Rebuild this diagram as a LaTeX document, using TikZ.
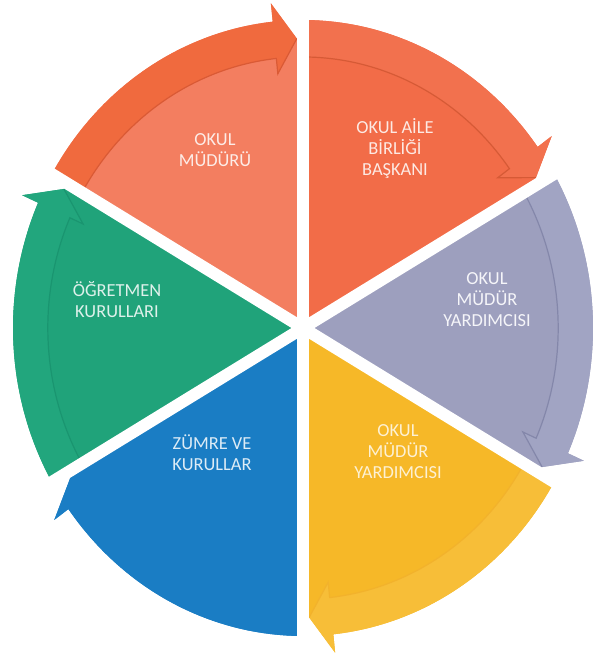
\documentclass[tikz,border=0pt]{standalone}
\usepackage{fontspec}
\setmainfont{Carlito}
\definecolor{oLbody}{HTML}{F37E60}
\definecolor{oLband}{HTML}{F06A3E}
\definecolor{oLline}{HTML}{DA5A35}
\definecolor{oRbody}{HTML}{F26C48}
\definecolor{oRband}{HTML}{F2714E}
\definecolor{oRline}{HTML}{D65A36}
\definecolor{gyBody}{HTML}{9D9FBE}
\definecolor{gyBand}{HTML}{A1A4C3}
\definecolor{gyLine}{HTML}{8487AA}
\definecolor{ylBody}{HTML}{F6B828}
\definecolor{ylBand}{HTML}{F7BE38}
\definecolor{ylLine}{HTML}{F2B22C}
\definecolor{blBody}{HTML}{1A7DC4}
\definecolor{blBand}{HTML}{1A7DC4}
\definecolor{blLine}{HTML}{1A7DC4}
\definecolor{grBody}{HTML}{20A37A}
\definecolor{grBand}{HTML}{22A67D}
\definecolor{grLine}{HTML}{1A9570}
\newcommand\MySlice[5]{%
  \pgfmathsetmacro\SlB{#2+6}%
  \pgfmathsetmacro\SlT{#2+1.3}%
  \fill[#3] (303,328) -- plot[domain=#1:\SlB,samples=50] ({303+290*cos(\x)},{328-308*sin(\x)})
     -- ({303+290*1.06*cos(\SlB)},{328-308*1.06*sin(\SlB)})
     -- ({303+290*0.94*cos(\SlT)},{328-308*0.94*sin(\SlT)})
     -- ({303+290*0.94*cos(#2)},{328-308*0.94*sin(#2)}) -- cycle;
  \fill[#4] plot[domain=#1:\SlB,samples=50] ({303+290*cos(\x)},{328-308*sin(\x)})
     -- ({303+290*1.06*cos(\SlB)},{328-308*1.06*sin(\SlB)})
     -- ({303+290*0.94*cos(\SlT)},{328-308*0.94*sin(\SlT)})
     -- ({303+290*0.83*cos(\SlB)},{328-308*0.83*sin(\SlB)})
     -- plot[domain=\SlB:#1,samples=50] ({303+290*0.88*cos(\x)},{328-308*0.88*sin(\x)}) -- cycle;
  \draw[#5, line width=0.6pt] plot[domain=#1:\SlB,samples=50] ({303+290*0.88*cos(\x)},{328-308*0.88*sin(\x)})
     -- ({303+290*0.83*cos(\SlB)},{328-308*0.83*sin(\SlB)})
     -- ({303+290*0.94*cos(\SlT)},{328-308*0.94*sin(\SlT)});
}
\tikzset{
  lbl/.style={align=center, inner sep=0pt, font=\fontsize{9.2}{10.5}\selectfont},
  gapline/.style={white, line width=6pt}
}
\begin{document}
\begin{tikzpicture}[x=0.5pt, y=-0.5pt]
\useasboundingbox[fill=white] (0,0) rectangle (599,663);
\MySlice{150}{90}{oLbody}{oLband}{oLline}
\MySlice{90}{30}{oRbody}{oRband}{oRline}
\MySlice{30}{-30}{gyBody}{gyBand}{gyLine}
\MySlice{330}{270}{ylBody}{ylBand}{ylLine}
\MySlice{270}{210}{blBody}{blBand}{blLine}
\MySlice{210}{150}{grBody}{grBand}{grLine}
\coordinate (c) at (303,328);
\foreach \a in {90,30,-30,-90,-150,150}{
  \draw[gapline] (c) -- ({303+290*1.15*cos(\a)},{328-308*1.15*sin(\a)});
}
\node[lbl, text=white!85!oLbody] (t1) at (215,150) {OKUL\\MÜDÜRÜ};
\node[lbl, text=white!85!oRbody] (t2) at (395,149) {OKUL AİLE\\BİRLİĞİ\\BAŞKANI};
\node[lbl, text=white!90!gyBody] (t3) at (487,300) {OKUL\\MÜDÜR\\YARDIMCISI};
\node[lbl, text=white!80!ylBody] (t4) at (398,452) {OKUL\\MÜDÜR\\YARDIMCISI};
\node[lbl, text=white!85!blBody] (t5) at (212,453) {ZÜMRE VE\\KURULLAR};
\node[lbl, text=white!85!grBody] (t6) at (117,300) {ÖĞRETMEN\\KURULLARI};
\end{tikzpicture}
\end{document}
